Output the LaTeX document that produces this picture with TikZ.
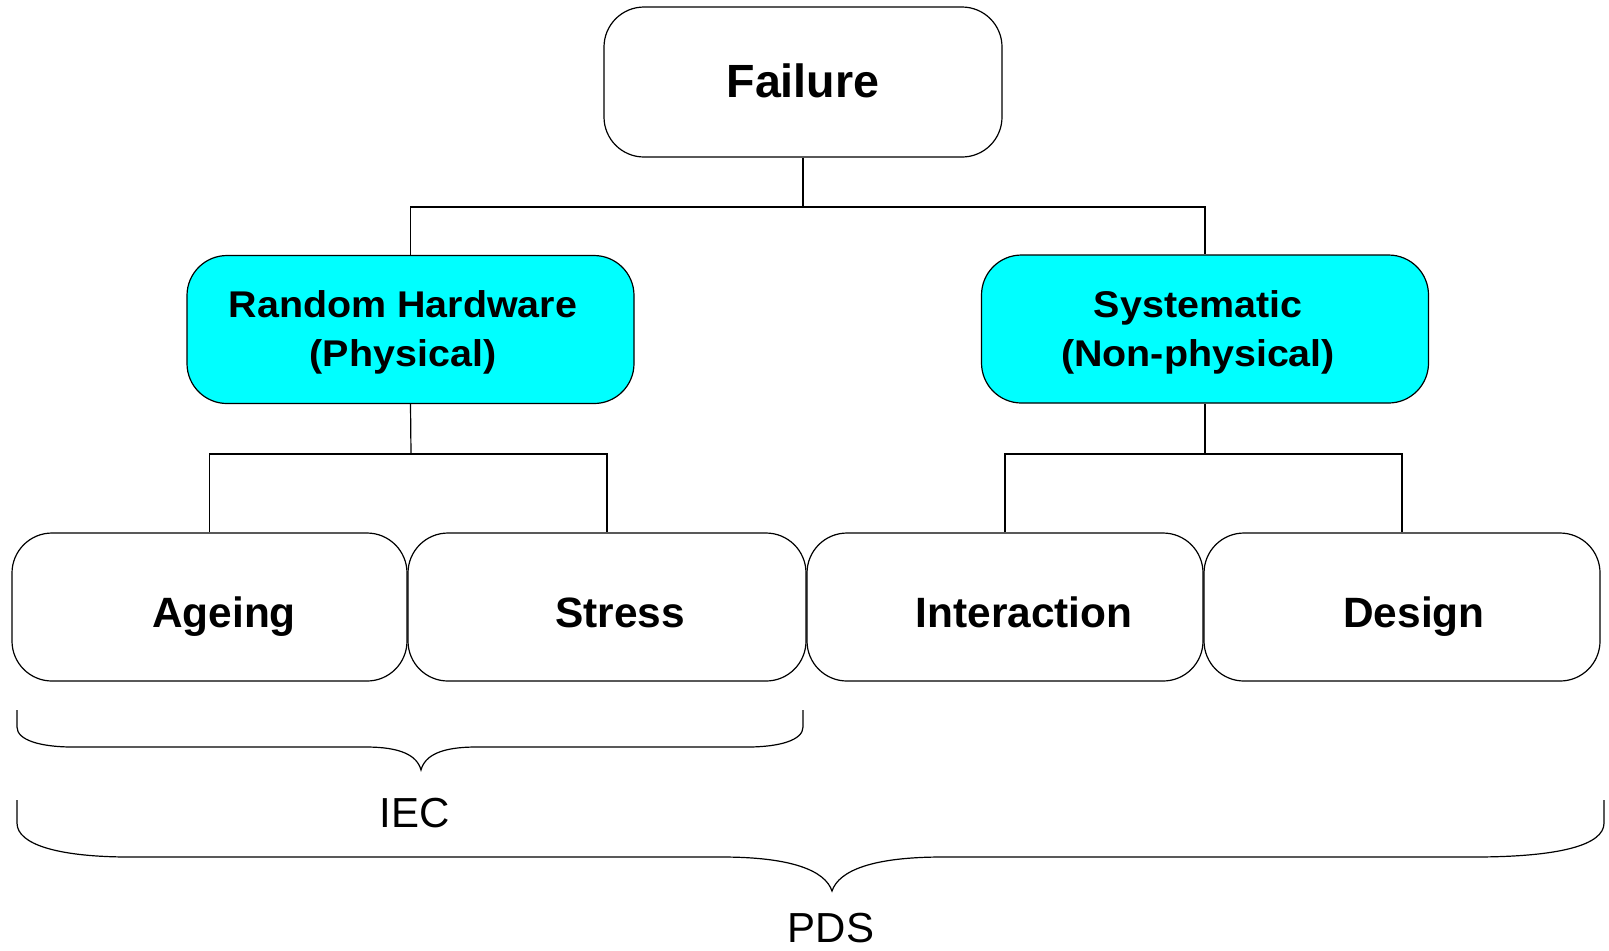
\documentclass[tikz,border=0pt]{standalone}
\usepackage{fontspec}
\setmainfont{Liberation Sans}
\newfontfamily\widefont[FakeStretch=1.06]{Liberation Sans}
\definecolor{boxcyan}{HTML}{00FFFF}
\tikzset{
  rbox/.style={draw=black, line width=0.6pt, rounded corners=20pt, inner sep=0pt, minimum height=74pt},
  topbox/.style={rbox, fill=white, minimum width=199pt, minimum height=75pt},
  midbox/.style={rbox, fill=boxcyan, minimum width=223.5pt},
  lowbox/.style={rbox, fill=white, minimum width=198pt},
  toptext/.style={inner sep=0pt, anchor=base, font=\fontsize{23.3pt}{28pt}\selectfont\bfseries},
  midtext/.style={inner sep=0pt, align=center, font=\widefont\fontsize{18.6pt}{24.5pt}\selectfont\bfseries},
  lowtext/.style={inner sep=0pt, anchor=base, font=\fontsize{21.2pt}{25pt}\selectfont\bfseries},
  bracetext/.style={inner sep=0pt, anchor=base, font=\fontsize{21pt}{25pt}\selectfont},
  conn/.style={draw=black, line width=0.6pt},
  bracepath/.style={draw=black, line width=0.6pt}
}
\begin{document}
\begin{tikzpicture}[x=0.5pt, y=-0.5pt]
\useasboundingbox (0,0) rectangle (1609,950);

% boxes
\node[topbox] (fail) at (803,82) {};
\node[midbox] (rh) at (410.5,329.5) {};
\node[midbox] (sys) at (1205,329) {};
\node[lowbox, minimum width=197.5pt] (age) at (209.5,607) {};
\node[lowbox, minimum width=199pt] (str) at (607,607) {};
\node[lowbox] (int) at (1005,607) {};
\node[lowbox] (des) at (1402,607) {};

% texts
\node[toptext] (failT) at (803,97) {Failure};
\node[midtext] (rhT) at (403,332) {Random Hardware\\(Physical)};
\node[midtext] (sysT) at (1198,332) {Systematic\\(Non-physical)};
\node[lowtext] (ageT) at (224,627) {Ageing};
\node[lowtext] (strT) at (620,627) {Stress};
\node[lowtext] (intT) at (1024,627) {Interaction};
\node[lowtext] (desT) at (1414,627) {Design};

% connectors
\coordinate (j1) at (803,207);
\coordinate (j2) at (411,454);
\coordinate (j3) at (1205,454);
\draw[conn] (fail.south) -- (j1);
\draw[conn] (rh.north) |- (j1) -| (sys.north);
\draw[conn] (rh.south) -- (j2);
\draw[conn] (age.north) |- (j2) -| (str.north);
\draw[conn] (sys.south) -- (j3);
\draw[conn] (int.north) |- (j3) -| (des.north);

% IEC brace
\draw[bracepath] (17,710) -- (17,727) .. controls (17,740) and (40,747) .. (73,747)
  -- (366,747) .. controls (400,747) and (417,755) .. (421,770)
  .. controls (425,755) and (442,747) .. (476,747)
  -- (747,747) .. controls (780,747) and (803,740) .. (803,727) -- (803,710);
\node[bracetext] (iec) at (415,827) {IEC};

% PDS brace
\draw[bracepath] (17,800) -- (17,823) .. controls (17,845) and (60,857) .. (130,857)
  -- (722,857) .. controls (790,857) and (825,870) .. (832,891)
  .. controls (839,870) and (874,857) .. (942,857)
  -- (1473,857) .. controls (1560,857) and (1604,845) .. (1604,823) -- (1604,800);
\node[bracetext] (pds) at (831,942) {PDS};
\end{tikzpicture}
\end{document}
